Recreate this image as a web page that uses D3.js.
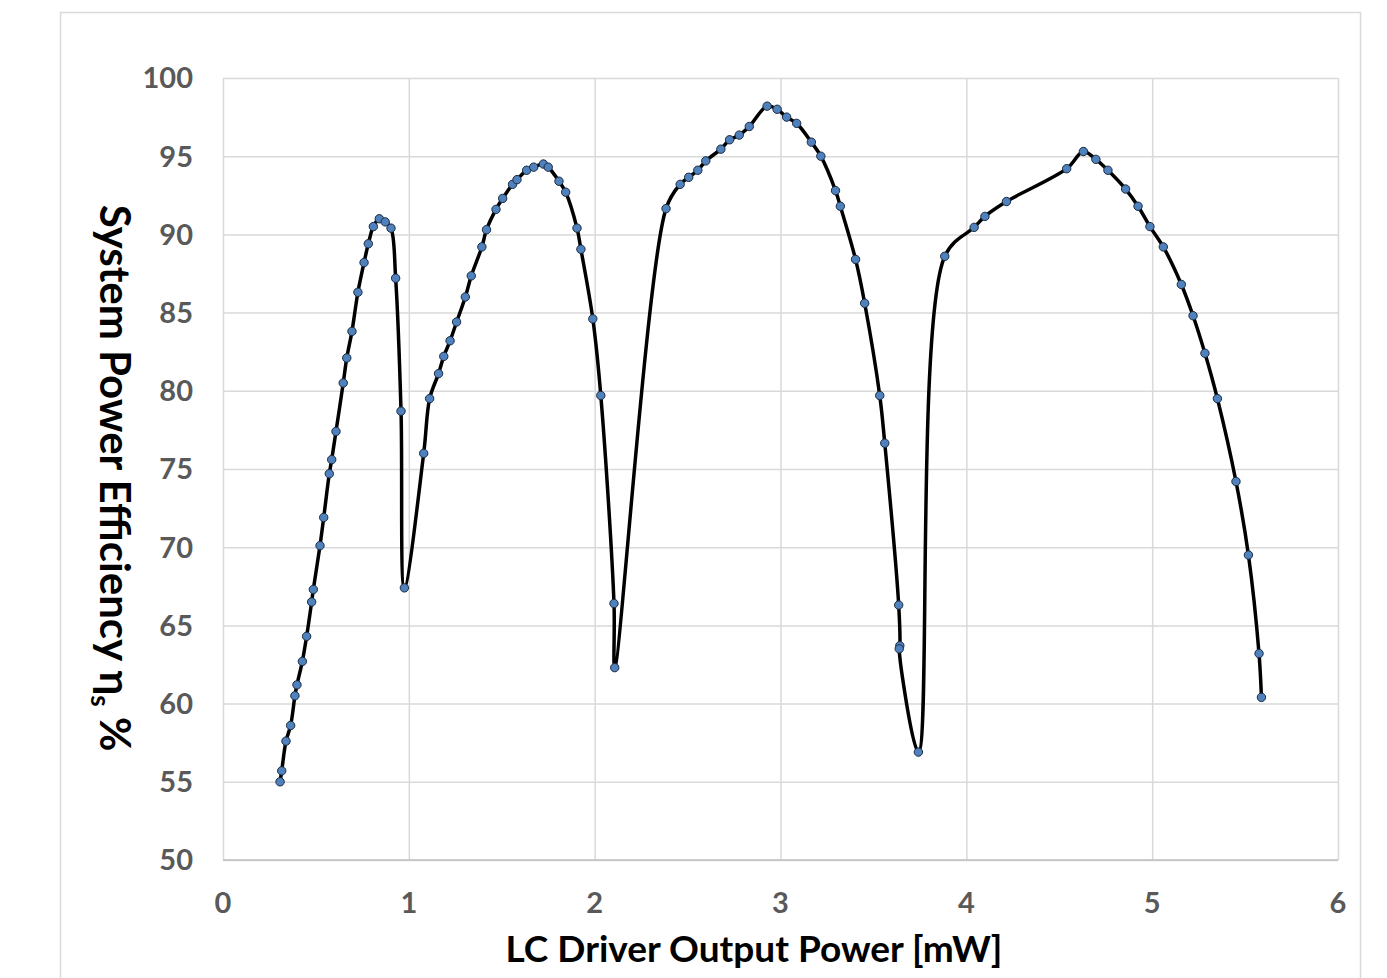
<!DOCTYPE html>
<html>
<head>
<meta charset="utf-8">
<script src="https://cdn.jsdelivr.net/npm/d3@7"></script>
<style>
  body { margin: 0; background: #fff; }
  text { font-family: Lato, "Open Sans", sans-serif; font-weight: bold; }
</style>
</head>
<body>
<div id="chart"></div>
<script>

// LC driver output power [mW]
const power = [
    0.307, 0.316, 0.339, 0.364, 0.387, 0.398, 0.427, 0.450, 0.477, 0.486,
    0.522, 0.542, 0.572, 0.585, 0.608, 0.647, 0.666, 0.694, 0.726, 0.759,
    0.782, 0.809, 0.841, 0.873, 0.904, 0.929, 0.958, 0.976,
    1.080, 1.112, 1.160, 1.188, 1.222, 1.257, 1.304, 1.336, 1.393, 1.418,
    1.469, 1.505, 1.558, 1.582, 1.634, 1.672, 1.724, 1.750, 1.808, 1.844,
    1.905, 1.926, 1.990, 2.033, 2.104, 2.108,
    2.384, 2.460, 2.506, 2.555, 2.598, 2.679, 2.726, 2.778, 2.832, 2.928,
    2.982, 3.033, 3.087, 3.166, 3.217, 3.296, 3.322, 3.404, 3.453, 3.534,
    3.561, 3.636, 3.642, 3.639, 3.742,
    3.884, 4.042, 4.100, 4.216, 4.540, 4.630, 4.697, 4.762, 4.857, 4.924,
    4.988, 5.060, 5.157, 5.220, 5.284, 5.351, 5.451, 5.518, 5.575, 5.588
];

// system power efficiency [%]
const efficiency = [
    55.0, 55.7, 57.6, 58.6, 60.5, 61.2, 62.7, 64.3, 66.5, 67.3,
    70.1, 71.9, 74.7, 75.6, 77.4, 80.5, 82.1, 83.8, 86.3, 88.2,
    89.4, 90.5, 91.0, 90.8, 90.4, 87.2, 78.7, 67.4,
    76.0, 79.5, 81.1, 82.2, 83.2, 84.4, 86.0, 87.35, 89.2, 90.3,
    91.6, 92.3, 93.2, 93.5, 94.1, 94.3, 94.5, 94.3, 93.4, 92.7,
    90.4, 89.05, 84.6, 79.7, 66.4, 62.3,
    91.65, 93.2, 93.65, 94.1, 94.7, 95.45, 96.05, 96.35, 96.9, 98.2,
    98.0, 97.5, 97.1, 95.9, 95.0, 92.8, 91.8, 88.4, 85.6, 79.7,
    76.65, 66.3, 63.7, 63.5, 56.9,
    88.6, 90.45, 91.15, 92.1, 94.2, 95.3, 94.8, 94.1, 92.9, 91.8,
    90.5, 89.2, 86.8, 84.8, 82.4, 79.5, 74.2, 69.5, 63.2, 60.4
];

const xTicks = [0, 1, 2, 3, 4, 5, 6];
const yTicks = [50, 55, 60, 65, 70, 75, 80, 85, 90, 95, 100];

const xTitle = "LC Driver Output Power [mW]";
const yTitle = "System Power Efficiency η";
const yTitleSub = "s";
const yTitleEnd = " %";

const data = power.map((p, i) => ({ x: p, y: efficiency[i] }));

const width = 1387;
const height = 978;
const margin = { top: 78, right: 49, bottom: 118, left: 223 };

const svg = d3.select("#chart")
    .append("svg")
    .attr("width", width)
    .attr("height", height);

// chart frame
svg.append("rect")
    .attr("x", 60.5)
    .attr("y", 12.5)
    .attr("width", 1300)
    .attr("height", 1000)
    .attr("fill", "none")
    .attr("stroke", "#d9d9d9")
    .attr("stroke-width", 1.5);

const x = d3.scaleLinear()
    .domain([0, 6])
    .range([margin.left, width - margin.right]);

const y = d3.scaleLinear()
    .domain([50, 100])
    .range([height - margin.bottom, margin.top]);

// GRID
svg.append("g")
    .attr("transform", `translate(0,${height - margin.bottom})`)
    .call(d3.axisBottom(x).tickValues(xTicks).tickSize(-(height - margin.top - margin.bottom)).tickFormat(""))
    .call(g => g.select(".domain").remove())
    .call(g => g.selectAll("line").attr("stroke", "#d9d9d9").attr("stroke-width", 1.5));

svg.append("g")
    .attr("transform", `translate(${margin.left},0)`)
    .call(d3.axisLeft(y).tickValues(yTicks).tickSize(-(width - margin.left - margin.right)).tickFormat(""))
    .call(g => g.select(".domain").remove())
    .call(g => g.selectAll("line").attr("stroke", "#d9d9d9").attr("stroke-width", 1.5));

// bottom axis line
svg.append("line")
    .attr("x1", x(0)).attr("x2", x(6))
    .attr("y1", y(50)).attr("y2", y(50))
    .attr("stroke", "#bfbfbf")
    .attr("stroke-width", 1.5);

// tick labels
svg.selectAll("text.xlab")
    .data(xTicks)
    .enter().append("text")
    .attr("class", "xlab")
    .attr("x", d => x(d))
    .attr("y", y(50) + 53)
    .attr("text-anchor", "middle")
    .attr("fill", "#595959")
    .attr("font-size", 29)
    .text(d => d);

svg.selectAll("text.ylab")
    .data(yTicks)
    .enter().append("text")
    .attr("class", "ylab")
    .attr("x", margin.left - 30)
    .attr("y", d => y(d))
    .attr("dy", "0.36em")
    .attr("text-anchor", "end")
    .attr("fill", "#595959")
    .attr("font-size", 29)
    .text(d => d);

// axis titles
svg.append("text")
    .attr("x", 754)
    .attr("y", 962)
    .attr("text-anchor", "middle")
    .attr("fill", "#000")
    .attr("font-size", 37)
    .text(xTitle);

const yt = svg.append("text")
    .attr("transform", "translate(100,478) rotate(90)")
    .attr("text-anchor", "middle")
    .attr("fill", "#000")
    .attr("font-size", 42);
yt.append("tspan").text(yTitle);
yt.append("tspan").attr("font-size", 26).attr("dy", 9).text(yTitleSub);
yt.append("tspan").attr("dy", -9).text(yTitleEnd);

// DRAW LINE
const line = d3.line()
    .x(d => x(d.x))
    .y(d => y(d.y))
    .curve(d3.curveCatmullRom.alpha(0.5));

svg.append("path")
    .datum(data)
    .attr("d", line)
    .attr("fill", "none")
    .attr("stroke", "#000")
    .attr("stroke-width", 3.5)
    .attr("stroke-linejoin", "round");

svg.selectAll("circle")
    .data(data)
    .enter().append("circle")
    .attr("cx", d => x(d.x))
    .attr("cy", d => y(d.y))
    .attr("r", 4.2)
    .attr("fill", "#4f81bd")
    .attr("stroke", "#1a2a40")
    .attr("stroke-width", 1);

</script>
</body>
</html>
